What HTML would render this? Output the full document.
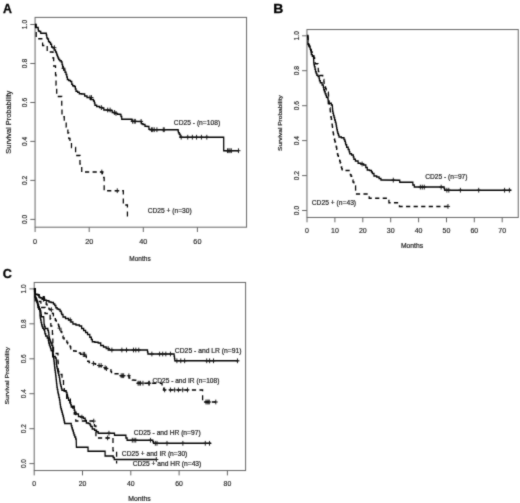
<!DOCTYPE html>
<html><head><meta charset="utf-8"><style>
html,body{margin:0;padding:0;background:#fff;}
svg{display:block;}
text{font-family:"Liberation Sans",sans-serif;}
.tk{fill:#222;stroke:#222;stroke-width:0.15px;}
.lb{fill:#222;stroke:#222;stroke-width:0.2px;}
.pl{font-weight:bold;fill:#000;stroke:#000;stroke-width:0.3px;}
</style></head><body>
<svg width="520" height="503" viewBox="0 0 520 503">
<defs><filter id="soft" x="0" y="0" width="520" height="503" filterUnits="userSpaceOnUse" color-interpolation-filters="sRGB"><feConvolveMatrix order="3" kernelMatrix="0.05 0.15 0.05 0.15 1 0.15 0.05 0.15 0.05" edgeMode="duplicate"/></filter></defs>
<g filter="url(#soft)">
<rect width="520" height="503" fill="#fff"/>
<rect x="35.07" y="17.4" width="211.5" height="209.8" fill="none" stroke="#666" stroke-width="1"/>
<path d="M35.1 227.2v4.8M89.2 227.2v4.8M143.3 227.2v4.8M197.4 227.2v4.8M35.1 219.4h-4.8M35.1 180.4h-4.8M35.1 141.4h-4.8M35.1 102.5h-4.8M35.1 63.5h-4.8M35.1 24.5h-4.8" stroke="#666" stroke-width="1" fill="none"/>
<text x="35.1" y="243.6" font-size="7.3" class="tk" text-anchor="middle">0</text>
<text x="89.2" y="243.6" font-size="7.3" class="tk" text-anchor="middle">20</text>
<text x="143.3" y="243.6" font-size="7.3" class="tk" text-anchor="middle">40</text>
<text x="197.4" y="243.6" font-size="7.3" class="tk" text-anchor="middle">60</text>
<text transform="translate(26.6,219.4) rotate(-90)" font-size="6.7" class="tk" text-anchor="middle">0.0</text>
<text transform="translate(26.6,180.4) rotate(-90)" font-size="6.7" class="tk" text-anchor="middle">0.2</text>
<text transform="translate(26.6,141.4) rotate(-90)" font-size="6.7" class="tk" text-anchor="middle">0.4</text>
<text transform="translate(26.6,102.5) rotate(-90)" font-size="6.7" class="tk" text-anchor="middle">0.6</text>
<text transform="translate(26.6,63.5) rotate(-90)" font-size="6.7" class="tk" text-anchor="middle">0.8</text>
<text transform="translate(26.6,24.5) rotate(-90)" font-size="6.7" class="tk" text-anchor="middle">1.0</text>
<rect x="306.95" y="29.55" width="211.3" height="187.9" fill="none" stroke="#666" stroke-width="1"/>
<path d="M307.0 217.5v4.8M334.9 217.5v4.8M362.8 217.5v4.8M390.7 217.5v4.8M418.6 217.5v4.8M446.5 217.5v4.8M474.3 217.5v4.8M502.2 217.5v4.8M306.9 210.5h-4.8M306.9 175.6h-4.8M306.9 140.6h-4.8M306.9 105.7h-4.8M306.9 70.7h-4.8M306.9 35.8h-4.8" stroke="#666" stroke-width="1" fill="none"/>
<text x="307.0" y="232.6" font-size="7.0" class="tk" text-anchor="middle">0</text>
<text x="334.9" y="232.6" font-size="7.0" class="tk" text-anchor="middle">10</text>
<text x="362.8" y="232.6" font-size="7.0" class="tk" text-anchor="middle">20</text>
<text x="390.7" y="232.6" font-size="7.0" class="tk" text-anchor="middle">30</text>
<text x="418.6" y="232.6" font-size="7.0" class="tk" text-anchor="middle">40</text>
<text x="446.5" y="232.6" font-size="7.0" class="tk" text-anchor="middle">50</text>
<text x="474.3" y="232.6" font-size="7.0" class="tk" text-anchor="middle">60</text>
<text x="502.2" y="232.6" font-size="7.0" class="tk" text-anchor="middle">70</text>
<text transform="translate(298.6,210.5) rotate(-90)" font-size="6.7" class="tk" text-anchor="middle">0.0</text>
<text transform="translate(298.6,175.6) rotate(-90)" font-size="6.7" class="tk" text-anchor="middle">0.2</text>
<text transform="translate(298.6,140.6) rotate(-90)" font-size="6.7" class="tk" text-anchor="middle">0.4</text>
<text transform="translate(298.6,105.7) rotate(-90)" font-size="6.7" class="tk" text-anchor="middle">0.6</text>
<text transform="translate(298.6,70.7) rotate(-90)" font-size="6.7" class="tk" text-anchor="middle">0.8</text>
<text transform="translate(298.6,35.8) rotate(-90)" font-size="6.7" class="tk" text-anchor="middle">1.0</text>
<rect x="34.2" y="282.45" width="211.4" height="188.1" fill="none" stroke="#666" stroke-width="1"/>
<path d="M34.2 470.6v4.8M82.5 470.6v4.8M130.8 470.6v4.8M179.1 470.6v4.8M227.4 470.6v4.8M34.2 463.6h-4.8M34.2 428.7h-4.8M34.2 393.7h-4.8M34.2 358.8h-4.8M34.2 323.8h-4.8M34.2 288.9h-4.8" stroke="#666" stroke-width="1" fill="none"/>
<text x="34.2" y="485.6" font-size="6.9" class="tk" text-anchor="middle">0</text>
<text x="82.5" y="485.6" font-size="6.9" class="tk" text-anchor="middle">20</text>
<text x="130.8" y="485.6" font-size="6.9" class="tk" text-anchor="middle">40</text>
<text x="179.1" y="485.6" font-size="6.9" class="tk" text-anchor="middle">60</text>
<text x="227.4" y="485.6" font-size="6.9" class="tk" text-anchor="middle">80</text>
<text transform="translate(25.6,463.6) rotate(-90)" font-size="6.5" class="tk" text-anchor="middle">0.0</text>
<text transform="translate(25.6,428.7) rotate(-90)" font-size="6.5" class="tk" text-anchor="middle">0.2</text>
<text transform="translate(25.6,393.7) rotate(-90)" font-size="6.5" class="tk" text-anchor="middle">0.4</text>
<text transform="translate(25.6,358.8) rotate(-90)" font-size="6.5" class="tk" text-anchor="middle">0.6</text>
<text transform="translate(25.6,323.8) rotate(-90)" font-size="6.5" class="tk" text-anchor="middle">0.8</text>
<text transform="translate(25.6,288.9) rotate(-90)" font-size="6.5" class="tk" text-anchor="middle">1.0</text>
<g transform="scale(0.84,1)">
<polyline points="41.8,24.4 42.3,24.4 42.3,27.5 45.2,27.5 45.4,27.5 45.4,29.2 45.7,29.2 45.7,30.9 45.8,30.9 47.0,30.9 47.0,31.4 48.2,31.4 48.5,31.4 48.5,33.2 48.8,33.2 54.6,33.2 55.1,33.2 55.1,34.9 55.6,34.9 55.8,38.1 56.6,38.1 56.6,38.9 57.4,38.9 57.7,38.9 57.7,41.6 58.1,41.6 58.9,41.6 58.9,42.5 59.8,42.5 60.2,42.5 60.2,44.2 60.6,44.2 61.4,44.2 61.4,46.9 62.1,46.9 62.9,46.9 62.9,47.7 63.6,47.7 64.5,47.7 64.5,49.9 65.4,49.9 66.1,49.9 66.1,51.9 66.9,51.9 67.2,51.9 67.2,53.4 67.7,53.4 67.7,54.9 68.0,54.9 68.4,54.9 68.4,56.4 69.1,56.4 69.1,57.9 69.5,57.9 69.9,57.9 69.9,59.4 70.4,59.4 71.2,59.4 71.2,60.7 72.1,60.7 72.9,60.7 72.9,61.9 73.6,61.9 73.9,61.9 73.9,64.5 74.3,64.5 74.5,64.5 74.5,66.4 74.9,66.4 74.9,68.3 75.1,68.3 76.0,68.3 76.0,69.9 76.8,69.9 77.4,69.9 77.4,72.2 78.6,72.2 78.6,74.6 79.2,74.6 79.5,74.6 79.5,77.0 80.2,77.0 80.2,79.4 80.6,79.4 81.8,79.4 81.8,80.6 83.0,80.6 83.9,80.6 83.9,81.4 84.9,81.4 85.4,81.4 85.4,84.2 85.8,84.2 86.5,84.2 86.5,85.8 87.3,85.8 88.3,85.8 88.3,86.6 89.3,86.6 89.7,86.6 89.7,88.9 90.5,88.9 90.5,91.3 91.0,91.3 92.4,91.3 92.4,92.2 93.8,92.2 94.4,92.2 94.4,93.7 95.0,93.7 97.3,93.7 97.3,94.1 99.6,94.1 100.8,94.1 100.8,96.1 101.9,96.1 103.6,96.1 103.6,97.5 105.4,97.5 107.9,97.5 107.9,99.4 110.5,99.4 111.3,99.4 111.3,100.9 112.1,100.9 112.4,100.9 112.4,103.1 113.0,103.1 113.0,105.2 113.3,105.2 115.1,105.2 115.1,106.6 116.8,106.6 118.5,106.6 118.5,107.6 120.2,107.6 121.7,107.6 121.7,108.1 123.1,108.1 123.6,108.1 123.6,110.0 124.2,110.0 128.5,110.0 128.5,110.5 132.7,110.5 133.6,110.5 133.6,112.4 134.5,112.4 136.0,112.4 136.0,113.4 137.4,113.4 139.9,113.4 139.9,114.3 142.5,114.3 143.0,114.3 143.0,114.6 143.6,114.6 144.0,114.6 144.0,116.5 144.4,116.5 144.9,116.5 144.9,119.2 145.5,119.2 156.5,119.2 157.0,119.2 157.0,121.3 157.4,121.3 168.0,121.4 168.4,121.4 168.4,123.8 168.8,123.8 170.2,123.8 170.2,124.6 171.7,124.6 172.6,124.6 172.6,126.2 173.5,126.2 176.7,126.5 177.3,126.5 177.3,129.2 178.0,129.2 178.6,129.2 178.6,129.7 179.2,129.7 212.0,129.7 212.1,129.7 212.1,131.2 212.4,131.2 212.4,132.8 212.5,132.8 213.4,132.8 213.4,134.3 214.3,134.3 214.5,134.3 214.5,137.2 214.8,137.2 266.3,137.2 266.3,150.7 284.5,150.7" fill="none" stroke="#000" stroke-width="1.5" stroke-linejoin="miter" stroke-miterlimit="3"/>
<path d="M64.8 45.3v4.8M62.4 47.7h4.8M75.6 65.9v4.8M73.2 68.3h4.8M107.1 95.1v4.8M104.8 97.5h4.8M108.9 95.1v4.8M106.5 97.5h4.8M120.7 105.2v4.8M118.3 107.6h4.8M128.2 107.6v4.8M125.8 110.0h4.8M131.1 107.6v4.8M128.7 110.0h4.8M136.4 110.0v4.8M134.0 112.4h4.8M138.1 111.0v4.8M135.7 113.4h4.8M157.9 118.9v4.8M155.5 121.3h4.8M159.8 118.9v4.8M157.4 121.3h4.8M161.1 118.9v4.8M158.7 121.3h4.8M168.0 119.0v4.8M165.6 121.4h4.8M180.4 127.3v4.8M178.0 129.7h4.8M181.8 127.3v4.8M179.4 129.7h4.8M183.6 127.3v4.8M181.2 129.7h4.8M186.8 127.3v4.8M184.4 129.7h4.8M194.4 127.3v4.8M192.0 129.7h4.8M195.5 127.3v4.8M193.1 129.7h4.8M215.7 134.8v4.8M213.3 137.2h4.8M223.5 134.8v4.8M221.1 137.2h4.8M229.0 134.8v4.8M226.7 137.2h4.8M234.0 134.8v4.8M231.7 137.2h4.8M239.8 134.8v4.8M237.4 137.2h4.8M246.2 134.8v4.8M243.8 137.2h4.8M270.8 148.3v4.8M268.5 150.7h4.8M272.4 148.3v4.8M270.0 150.7h4.8M273.8 148.3v4.8M271.4 150.7h4.8M275.4 148.3v4.8M273.0 150.7h4.8M283.9 148.3v4.8M281.5 150.7h4.8" stroke="#111" stroke-width="1.0" fill="none"/>
<polyline points="41.8,24.4 43.1,24.4 43.1,38.7 50.7,38.7 50.7,45.4 56.2,45.4 56.2,52.0 63.1,52.0 63.1,58.0 63.9,58.0 63.9,66.0 66.1,66.0 66.1,75.0 66.7,75.0 66.7,85.0 67.5,85.0 67.5,96.5 73.5,96.5 73.5,106.0 73.8,106.0 73.8,116.8 76.5,116.8 76.5,120.0 78.8,120.0 78.8,127.0 80.8,127.0 80.8,133.0 81.9,133.0 81.9,138.5 83.3,138.5 83.3,141.5 85.1,141.5 85.1,147.6 90.0,147.6 90.0,155.5 95.2,155.5 95.2,164.0 97.3,164.0 97.3,172.0 122.0,172.0 122.0,177.5 124.0,177.5 124.0,190.7 146.8,190.7 146.8,205.1 151.7,205.1 151.7,219.4" fill="none" stroke="#000" stroke-width="1.5" stroke-dasharray="5 4" stroke-linejoin="miter" stroke-miterlimit="3"/>
<path d="M121.2 169.6v4.8M118.8 172.0h4.8M139.6 188.3v4.8M137.3 190.7h4.8" stroke="#111" stroke-width="1.0" fill="none"/>
<polyline points="366.0,35.6 366.2,35.6 366.2,37.2 366.6,37.2 366.6,38.9 366.8,38.9 366.5,43.7 367.2,43.7 367.2,44.9 367.9,44.9 368.3,44.9 368.3,47.0 369.2,47.0 369.2,49.1 369.6,49.1 369.9,49.1 369.9,50.6 370.4,50.6 370.4,52.1 370.6,52.1 370.6,54.4 371.8,54.4 371.8,56.2 373.1,56.2 373.2,56.2 373.2,58.1 373.4,58.1 373.4,60.0 373.5,60.0 373.5,62.7 373.8,62.7 373.8,64.8 374.3,64.8 374.3,66.8 374.6,66.8 375.0,66.8 375.0,69.2 375.6,69.2 375.6,71.7 376.0,71.7 376.4,71.7 376.4,73.4 377.2,73.4 377.2,75.2 377.6,75.2 378.6,75.2 378.6,76.6 379.6,76.6 379.9,76.6 379.9,78.6 380.3,78.6 380.3,80.7 380.5,80.7 381.3,80.7 381.3,82.8 382.1,82.8 383.4,82.8 383.4,84.9 384.6,84.9 384.9,84.9 384.9,87.3 385.4,87.3 385.4,89.8 385.7,89.8 386.2,89.8 386.2,91.8 387.1,91.8 387.1,93.7 387.6,93.7 388.0,93.7 388.0,95.5 388.7,95.5 388.7,97.3 389.0,97.3 389.8,97.3 389.8,97.7 390.5,97.7 390.5,97.7 390.5,99.6 390.7,99.6 390.7,101.6 390.8,101.6 390.8,103.5 390.8,103.5 393.2,103.3 394.4,103.3 394.4,104.9 395.6,104.9 395.7,104.9 395.7,107.0 395.8,107.0 395.8,109.1 396.0,109.1 396.0,111.2 396.1,111.2 396.4,111.2 396.4,113.3 397.0,113.3 397.0,115.5 397.7,115.5 397.7,117.6 398.0,117.6 398.4,117.6 398.4,119.9 399.2,119.9 399.2,122.2 399.6,122.2 399.9,122.2 399.9,124.1 400.3,124.1 400.3,126.0 400.7,126.0 400.7,127.9 401.1,127.9 401.1,129.8 401.6,129.8 401.6,131.7 401.8,131.7 402.1,131.7 402.1,133.5 402.9,133.5 402.9,135.3 403.6,135.3 403.6,137.1 403.9,137.1 406.4,137.1 406.4,137.7 408.9,137.7 409.5,137.7 409.5,139.5 410.5,139.5 410.5,141.3 411.1,141.3 411.2,141.3 411.2,143.1 411.6,143.1 411.6,144.8 411.8,144.8 412.7,144.8 412.7,147.2 414.5,147.2 414.5,149.6 415.4,149.6 415.7,149.6 415.7,151.7 416.4,151.7 416.4,153.8 416.8,153.8 418.5,153.8 418.5,155.0 420.2,155.0 420.6,155.0 420.6,157.1 421.3,157.1 421.3,159.2 421.7,159.2 423.1,159.2 423.1,160.9 424.5,160.9 426.3,160.9 426.3,163.3 428.1,163.3 429.6,163.3 429.6,164.0 431.1,164.0 432.9,164.0 432.9,165.1 434.6,165.1 435.5,165.1 435.5,167.5 437.2,167.5 437.2,169.9 438.1,169.9 439.9,169.9 439.9,170.5 441.7,170.5 442.2,170.5 442.2,172.0 443.3,172.0 443.3,173.5 443.8,173.5 445.2,173.5 445.2,175.9 446.7,175.9 448.5,175.9 448.5,177.1 450.2,177.1 451.3,177.1 451.3,178.6 453.5,178.6 453.5,180.1 454.5,180.1 475.5,180.2 475.9,180.2 475.9,182.2 476.3,182.2 490.7,182.2 491.5,182.2 491.5,184.9 492.4,184.9 493.2,184.9 493.2,187.1 493.9,187.1 528.3,187.1 528.7,187.1 528.7,188.6 529.4,188.6 529.4,190.2 529.8,190.2 608.7,190.2" fill="none" stroke="#000" stroke-width="1.5" stroke-linejoin="miter" stroke-miterlimit="3"/>
<path d="M431.1 161.6v4.8M428.7 164.0h4.8M468.2 177.7v4.8M465.8 180.1h4.8M500.4 184.7v4.8M498.0 187.1h4.8M502.7 184.7v4.8M500.4 187.1h4.8M505.1 184.7v4.8M502.7 187.1h4.8M525.2 184.7v4.8M522.9 187.1h4.8M532.0 187.8v4.8M529.6 190.2h4.8M534.3 187.8v4.8M531.9 190.2h4.8M548.1 187.8v4.8M545.7 190.2h4.8M569.9 187.8v4.8M567.5 190.2h4.8M600.7 187.8v4.8M598.3 190.2h4.8M606.4 187.8v4.8M604.0 190.2h4.8" stroke="#111" stroke-width="1.0" fill="none"/>
<polyline points="366.0,35.6 366.3,35.6 366.3,36.0 366.7,36.0 366.7,44.0 367.6,44.0 367.6,46.0 368.5,46.0 368.9,46.0 368.9,48.0 369.8,48.0 369.8,50.0 370.2,50.0 370.7,50.0 370.7,52.0 371.6,52.0 371.6,54.0 372.0,54.0 372.6,54.0 372.6,56.0 373.8,56.0 373.8,58.0 374.4,58.0 374.6,58.0 374.6,59.9 374.9,59.9 374.9,61.8 375.3,61.8 375.3,63.7 375.5,63.7 378.5,63.7 378.5,63.7 378.5,65.4 378.7,65.4 378.7,67.2 378.8,67.2 379.0,71.5 379.5,71.5 379.5,73.5 380.5,73.5 380.5,75.5 381.0,75.5 383.8,75.5 384.2,75.5 384.2,77.5 385.1,77.5 385.1,79.4 385.5,79.4 385.6,79.4 385.6,81.7 385.8,81.7 385.8,84.0 386.0,84.0 386.2,84.0 386.2,85.5 386.8,85.5 386.8,87.0 387.1,87.0 387.5,87.0 387.5,88.5 388.3,88.5 388.3,90.0 388.7,90.0 389.8,90.0 389.8,92.2 390.8,92.2 390.9,92.2 390.9,94.5 391.1,94.5 391.1,96.7 391.3,96.7 391.3,99.0 391.4,99.0 391.6,99.0 391.6,101.5 391.9,101.5 391.9,104.0 392.0,104.0 392.2,104.0 392.2,106.0 392.6,106.0 392.6,108.0 392.9,108.0 393.0,108.0 393.0,109.7 393.2,109.7 393.2,111.5 393.4,111.5 393.4,113.2 393.6,113.2 393.6,115.0 393.7,115.0 393.9,115.0 393.9,117.1 394.4,117.1 394.4,119.2 394.6,119.2 394.8,119.2 394.8,121.0 395.1,121.0 395.1,122.7 395.3,122.7 395.3,124.5 395.5,124.5 395.6,124.5 395.6,126.4 395.9,126.4 395.9,128.3 396.2,128.3 396.2,130.3 396.5,130.3 396.5,132.2 396.8,132.2 396.8,134.1 396.9,134.1 397.2,134.1 397.2,136.5 397.9,136.5 397.9,138.9 398.2,138.9 398.4,138.9 398.4,140.4 398.8,140.4 398.8,142.0 399.0,142.0 399.4,142.0 399.4,144.5 400.2,144.5 400.2,147.0 400.6,147.0 400.8,147.0 400.8,149.3 401.2,149.3 401.2,151.5 401.6,151.5 401.6,153.8 401.8,153.8 402.1,153.8 402.1,155.6 402.9,155.6 402.9,157.4 403.6,157.4 403.6,159.2 403.9,159.2 404.3,159.2 404.3,161.1 405.0,161.1 405.0,163.0 405.4,163.0 405.7,163.0 405.7,165.0 406.2,165.0 406.2,167.0 406.5,167.0 406.8,167.0 406.8,168.8 407.4,168.8 407.4,170.5 407.6,170.5 416.1,170.5 416.4,170.5 416.4,172.6 417.1,172.6 417.1,174.7 417.5,174.7 417.9,174.7 417.9,176.3 418.7,176.3 418.7,178.0 419.0,178.0 419.4,178.0 419.4,180.0 420.2,180.0 420.2,182.0 420.6,182.0 421.3,182.0 421.3,184.0 422.6,184.0 422.6,186.0 423.2,186.0 423.3,186.0 423.3,188.0 423.3,188.0 423.3,190.1 423.4,190.1 423.4,192.1 423.5,192.1 423.5,194.1 423.6,194.1 439.5,194.1 439.5,198.2 463.0,198.2 463.0,202.8 472.6,202.8 474.0,202.8 474.0,204.4 475.5,204.4 475.5,206.4 533.3,206.4" fill="none" stroke="#000" stroke-width="1.5" stroke-dasharray="5 4" stroke-linejoin="miter" stroke-miterlimit="3"/>
<path d="M533.3 204.0v4.8M531.0 206.4h4.8" stroke="#111" stroke-width="1.0" fill="none"/>
<polyline points="40.2,288.9 41.1,288.9 41.3,288.9 41.3,291.4 41.9,291.4 41.9,293.9 42.1,293.9 42.9,293.9 42.9,294.5 43.6,294.5 44.6,294.5 44.6,294.8 45.7,294.8 46.4,294.8 46.4,296.9 47.1,296.9 47.5,296.9 47.5,297.8 47.9,297.8 48.9,297.8 48.9,298.1 49.9,298.1 50.4,298.1 50.4,299.3 51.0,299.3 52.0,299.3 52.0,300.2 53.1,300.2 55.4,300.2 55.4,300.8 57.7,300.8 58.3,300.8 58.3,302.0 58.8,302.0 60.8,302.0 60.8,302.6 62.7,302.6 63.6,302.6 63.6,304.1 64.5,304.1 65.2,304.1 65.2,305.6 66.0,305.6 66.5,305.6 66.5,307.7 67.0,307.7 68.0,307.7 68.0,308.9 69.0,308.9 69.8,308.9 69.8,309.4 70.5,309.4 71.5,309.4 71.5,311.2 72.6,311.2 72.9,311.2 72.9,312.9 73.5,312.9 73.5,314.5 73.8,314.5 75.0,314.5 75.0,317.0 76.2,317.0 78.0,317.0 78.0,318.6 79.8,318.6 81.5,318.6 81.5,319.9 83.2,319.9 84.4,319.9 84.4,321.9 85.6,321.9 86.8,321.9 86.8,323.9 88.0,323.9 90.4,323.9 90.4,324.9 92.7,324.9 94.5,324.9 94.5,325.9 96.3,325.9 97.2,325.9 97.2,328.4 98.1,328.4 99.6,328.4 99.6,330.4 101.1,330.4 101.9,330.4 101.9,332.4 102.7,332.4 104.2,332.4 104.2,334.4 105.7,334.4 106.9,334.4 106.9,337.3 108.1,337.3 108.7,337.3 108.7,339.6 109.9,339.6 109.9,341.8 110.5,341.8 112.9,341.8 112.9,342.3 115.2,342.3 116.9,342.3 116.9,343.1 118.6,343.1 119.9,343.1 119.9,345.4 121.3,345.4 123.2,345.4 123.2,346.9 125.0,346.9 126.4,346.9 126.4,348.5 127.7,348.5 129.6,348.5 129.6,350.0 131.4,350.0 175.4,350.0 175.6,350.0 175.6,352.0 176.1,352.0 176.1,354.0 176.3,354.0 207.1,354.0 207.3,354.0 207.3,356.3 207.7,356.3 207.7,358.5 208.1,358.5 208.1,360.8 208.3,360.8 283.9,360.8" fill="none" stroke="#000" stroke-width="1.5" stroke-linejoin="miter" stroke-miterlimit="3"/>
<path d="M51.7 296.9v4.8M49.3 299.3h4.8M83.6 317.5v4.8M81.2 319.9h4.8M128.7 346.1v4.8M126.3 348.5h4.8M133.2 347.6v4.8M130.8 350.0h4.8M145.1 347.6v4.8M142.7 350.0h4.8M150.6 347.6v4.8M148.2 350.0h4.8M158.9 347.6v4.8M156.5 350.0h4.8M161.7 347.6v4.8M159.3 350.0h4.8M165.2 347.6v4.8M162.9 350.0h4.8M180.8 351.6v4.8M178.5 354.0h4.8M190.0 351.6v4.8M187.6 354.0h4.8M193.7 351.6v4.8M191.3 354.0h4.8M197.4 351.6v4.8M195.0 354.0h4.8M202.9 351.6v4.8M200.5 354.0h4.8M210.6 358.4v4.8M208.2 360.8h4.8M215.2 358.4v4.8M212.9 360.8h4.8M219.8 358.4v4.8M217.4 360.8h4.8M246.1 358.4v4.8M243.7 360.8h4.8M249.5 358.4v4.8M247.1 360.8h4.8M254.2 358.4v4.8M251.8 360.8h4.8M282.7 358.4v4.8M280.4 360.8h4.8" stroke="#111" stroke-width="1.0" fill="none"/>
<polyline points="40.7,288.8 41.1,288.8 41.1,291.6 43.8,291.6 43.9,291.6 43.9,293.1 44.2,293.1 44.2,294.6 44.3,294.6 45.4,294.6 45.4,295.1 46.5,295.1 46.7,295.1 46.7,296.7 47.0,296.7 52.2,296.7 52.6,296.7 52.6,298.2 53.0,298.2 53.3,301.1 53.9,301.1 53.9,301.8 54.6,301.8 55.0,301.8 55.0,304.2 55.3,304.2 56.0,304.2 56.0,305.0 56.8,305.0 57.1,305.0 57.1,306.6 57.5,306.6 58.2,306.6 58.2,309.0 58.9,309.0 59.5,309.0 59.5,309.7 60.2,309.7 61.0,309.7 61.0,311.7 61.8,311.7 62.4,311.7 62.4,313.5 63.1,313.5 63.6,313.5 63.6,316.1 64.1,316.1 64.8,316.1 64.8,318.8 65.5,318.8 65.9,318.8 65.9,320.2 66.2,320.2 67.0,320.2 67.0,321.3 67.8,321.3 68.5,321.3 68.5,322.4 69.1,322.4 69.4,322.4 69.4,324.8 69.7,324.8 69.9,324.8 69.9,326.5 70.3,326.5 70.3,328.2 70.5,328.2 71.2,328.2 71.2,329.6 72.0,329.6 72.5,329.6 72.5,331.7 73.6,331.7 73.6,333.8 74.1,333.8 74.4,333.8 74.4,336.0 75.0,336.0 75.0,338.1 75.4,338.1 76.4,338.1 76.4,339.2 77.5,339.2 78.3,339.2 78.3,339.9 79.2,339.9 79.6,339.9 79.6,342.4 80.0,342.4 80.7,342.4 80.7,343.8 81.3,343.8 82.2,343.8 82.2,344.6 83.1,344.6 83.5,344.6 83.5,346.7 84.2,346.7 84.2,348.8 84.6,348.8 85.9,348.8 85.9,349.6 87.2,349.6 87.7,349.6 87.7,350.9 88.2,350.9 90.3,350.9 90.3,351.3 92.4,351.3 93.4,351.3 93.4,353.1 94.4,353.1 95.9,353.1 95.9,354.3 97.5,354.3 99.8,354.3 99.8,356.0 102.0,356.0 102.8,356.0 102.8,357.4 103.5,357.4 103.8,357.4 103.8,359.3 104.3,359.3 104.3,361.2 104.6,361.2 106.1,361.2 106.1,362.5 107.7,362.5 109.2,362.5 109.2,363.4 110.8,363.4 112.0,363.4 112.0,363.8 113.3,363.8 113.8,363.8 113.8,365.5 114.3,365.5 118.1,365.5 118.1,366.0 121.9,366.0 122.7,366.0 122.7,367.7 123.5,367.7 124.8,367.7 124.8,368.6 126.1,368.6 128.3,368.6 128.3,369.4 130.6,369.4 131.6,369.7 132.0,369.7 132.0,371.4 132.3,371.4 132.8,371.4 132.8,373.8 133.3,373.8 143.2,373.8 143.5,373.8 143.5,375.7 143.9,375.7 153.4,375.8 153.7,375.8 153.7,377.9 154.1,377.9 155.4,377.9 155.4,378.6 156.7,378.6 157.5,378.6 157.5,380.1 158.3,380.1 161.1,380.3 161.7,380.3 161.7,382.7 162.3,382.7 162.8,382.7 162.8,383.2 163.4,383.2 192.7,383.2 192.9,383.2 192.9,386.0 193.1,386.0 193.9,386.0 193.9,387.3 194.7,387.3 194.9,387.3 194.9,389.9 195.1,389.9 241.2,389.9 241.2,402.0 257.4,402.0" fill="none" stroke="#000" stroke-width="1.5" stroke-dasharray="5 4" stroke-linejoin="miter" stroke-miterlimit="3"/>
<path d="M61.2 307.3v4.8M58.8 309.7h4.8M70.9 325.8v4.8M68.5 328.2h4.8M99.1 351.9v4.8M96.7 354.3h4.8M100.7 351.9v4.8M98.3 354.3h4.8M111.2 361.0v4.8M108.8 363.4h4.8M117.9 363.1v4.8M115.5 365.5h4.8M120.4 363.1v4.8M118.0 365.5h4.8M125.2 365.3v4.8M122.8 367.7h4.8M126.7 366.2v4.8M124.3 368.6h4.8M144.3 373.3v4.8M142.0 375.7h4.8M146.0 373.3v4.8M143.7 375.7h4.8M147.2 373.3v4.8M144.8 375.7h4.8M153.4 373.4v4.8M151.0 375.8h4.8M164.4 380.8v4.8M162.0 383.2h4.8M165.7 380.8v4.8M163.3 383.2h4.8M167.3 380.8v4.8M164.9 383.2h4.8M170.2 380.8v4.8M167.8 383.2h4.8M177.0 380.8v4.8M174.6 383.2h4.8M177.9 380.8v4.8M175.5 383.2h4.8M196.0 387.5v4.8M193.6 389.9h4.8M202.9 387.5v4.8M200.5 389.9h4.8M207.9 387.5v4.8M205.5 389.9h4.8M212.4 387.5v4.8M210.0 389.9h4.8M217.5 387.5v4.8M215.1 389.9h4.8M223.2 387.5v4.8M220.8 389.9h4.8M245.2 399.6v4.8M242.8 402.0h4.8M246.6 399.6v4.8M244.2 402.0h4.8M247.9 399.6v4.8M245.5 402.0h4.8M249.2 399.6v4.8M246.9 402.0h4.8M256.9 399.6v4.8M254.5 402.0h4.8" stroke="#111" stroke-width="1.0" fill="none"/>
<polyline points="41.1,288.7 41.3,288.7 41.3,290.4 41.7,290.4 41.7,292.0 41.8,292.0 41.6,296.8 42.2,296.8 42.2,298.0 42.8,298.0 43.2,298.0 43.2,300.1 43.9,300.1 43.9,302.2 44.3,302.2 44.5,302.2 44.5,303.7 44.9,303.7 44.9,305.2 45.1,305.2 45.1,307.5 46.2,307.5 46.2,309.3 47.3,309.3 47.6,313.1 47.6,315.8 47.9,315.8 47.9,317.9 48.4,317.9 48.4,319.9 48.7,319.9 48.9,319.9 48.9,322.4 49.5,322.4 49.5,324.8 49.8,324.8 50.1,324.8 50.1,326.6 50.9,326.6 50.9,328.3 51.2,328.3 52.1,328.3 52.1,329.7 53.0,329.7 53.2,329.7 53.2,331.8 53.5,331.8 53.5,333.8 53.7,333.8 54.4,333.8 54.4,335.9 55.1,335.9 56.2,335.9 56.2,338.0 57.3,338.0 57.5,338.0 57.5,340.5 58.0,340.5 58.0,342.9 58.2,342.9 58.7,342.9 58.7,344.9 59.5,344.9 59.5,346.8 59.9,346.8 60.2,346.8 60.2,348.6 60.8,348.6 60.8,350.4 61.1,350.4 61.7,350.4 61.7,350.8 62.4,350.8 62.7,356.6 64.7,356.4 65.8,356.4 65.8,358.0 66.8,358.0 66.9,358.0 66.9,360.1 67.0,360.1 67.0,362.2 67.1,362.2 67.1,364.3 67.2,364.3 67.5,364.3 67.5,366.4 68.0,366.4 68.0,368.6 68.6,368.6 68.6,370.7 68.9,370.7 69.2,370.7 69.2,373.0 69.9,373.0 69.9,375.3 70.3,375.3 70.5,375.3 70.5,377.2 70.9,377.2 70.9,379.1 71.2,379.1 71.2,381.0 71.6,381.0 71.6,382.9 72.0,382.9 72.0,384.8 72.2,384.8 72.5,384.8 72.5,386.6 73.1,386.6 73.1,388.4 73.7,388.4 73.7,390.2 74.0,390.2 76.2,390.2 76.2,390.8 78.3,390.8 78.8,390.8 78.8,392.6 79.7,392.6 79.7,394.4 80.2,394.4 80.3,394.4 80.3,396.2 80.7,396.2 80.7,397.9 80.8,397.9 81.6,397.9 81.6,400.3 83.1,400.3 83.1,402.7 83.9,402.7 84.2,402.7 84.2,404.8 84.8,404.8 84.8,406.9 85.1,406.9 86.6,406.9 86.6,408.1 88.1,408.1 88.4,408.1 88.4,410.2 89.1,410.2 89.1,412.3 89.4,412.3 90.6,412.3 90.6,414.0 91.8,414.0 93.4,414.0 93.4,416.4 94.9,416.4 96.2,416.4 96.2,417.1 97.5,417.1 99.1,417.1 99.1,418.2 100.6,418.2 101.4,418.2 101.4,420.6 102.8,420.6 102.8,423.0 103.6,423.0 105.1,423.0 105.1,423.6 106.7,423.6 107.2,423.6 107.2,425.1 108.1,425.1 108.1,426.6 108.5,426.6 109.8,426.6 109.8,429.0 111.0,429.0 112.6,429.0 112.6,430.2 114.1,430.2 115.0,430.2 115.0,431.7 116.9,431.7 116.9,433.2 117.8,433.2 136.0,433.3 136.3,433.3 136.3,435.3 136.7,435.3 149.2,435.3 149.9,435.3 149.9,438.0 150.6,438.0 151.3,438.0 151.3,440.2 151.9,440.2 181.7,440.2 182.0,440.2 182.0,441.8 182.7,441.8 182.7,443.3 183.0,443.3 251.3,443.3" fill="none" stroke="#000" stroke-width="1.5" stroke-linejoin="miter" stroke-miterlimit="3"/>
<path d="M97.5 414.7v4.8M95.1 417.1h4.8M129.7 430.8v4.8M127.3 433.2h4.8M157.5 437.8v4.8M155.1 440.2h4.8M159.6 437.8v4.8M157.2 440.2h4.8M161.6 437.8v4.8M159.3 440.2h4.8M179.1 437.8v4.8M176.7 440.2h4.8M184.9 440.9v4.8M182.5 443.3h4.8M186.9 440.9v4.8M184.5 443.3h4.8M198.8 440.9v4.8M196.5 443.3h4.8M217.7 440.9v4.8M215.3 443.3h4.8M244.4 440.9v4.8M242.0 443.3h4.8M249.4 440.9v4.8M247.0 443.3h4.8" stroke="#111" stroke-width="1.0" fill="none"/>
<polyline points="40.7,288.8 41.9,288.8 41.9,301.6 48.7,301.6 48.7,307.6 53.6,307.6 53.6,313.5 59.7,313.5 59.7,318.9 60.5,318.9 60.5,326.1 62.4,326.1 62.4,334.2 62.9,334.2 62.9,343.1 63.7,343.1 63.7,353.4 69.0,353.4 69.0,362.0 69.3,362.0 69.3,371.6 71.7,371.6 71.7,374.5 73.8,374.5 73.8,380.8 75.6,380.8 75.6,386.2 76.5,386.2 76.5,391.1 77.8,391.1 77.8,393.8 79.4,393.8 79.4,399.2 83.8,399.2 83.8,406.3 88.4,406.3 88.4,413.9 90.2,413.9 90.2,421.1 112.4,421.1 112.4,426.0 114.2,426.0 114.2,437.9 134.5,437.9 134.5,450.8 138.8,450.8 138.8,463.6" fill="none" stroke="#000" stroke-width="1.5" stroke-dasharray="5 4" stroke-linejoin="miter" stroke-miterlimit="3"/>
<path d="M111.6 418.7v4.8M109.2 421.1h4.8M128.1 435.5v4.8M125.7 437.9h4.8" stroke="#111" stroke-width="1.0" fill="none"/>
<polyline points="41.1,288.7 41.4,288.7 41.4,289.1 41.7,289.1 41.7,297.1 42.5,297.1 42.5,299.1 43.3,299.1 43.7,299.1 43.7,301.1 44.5,301.1 44.5,303.1 44.8,303.1 45.2,303.1 45.2,305.1 46.0,305.1 46.0,307.1 46.4,307.1 46.9,307.1 46.9,309.1 47.9,309.1 47.9,311.1 48.4,311.1 48.6,311.1 48.6,313.0 48.9,313.0 48.9,314.9 49.2,314.9 49.2,316.8 49.4,316.8 52.0,316.8 52.3,320.3 52.5,324.6 52.9,324.6 52.9,326.6 53.7,326.6 53.7,328.6 54.1,328.6 56.6,328.6 56.9,328.6 56.9,330.6 57.7,330.6 57.7,332.5 58.0,332.5 58.1,332.5 58.1,334.8 58.3,334.8 58.3,337.1 58.4,337.1 58.7,337.1 58.7,338.6 59.2,338.6 59.2,340.1 59.5,340.1 59.8,340.1 59.8,341.6 60.5,341.6 60.5,343.1 60.8,343.1 61.7,343.1 61.7,345.3 62.7,345.3 62.8,345.3 62.8,347.6 62.9,347.6 62.9,349.8 63.1,349.8 63.1,352.1 63.2,352.1 63.3,352.1 63.3,354.6 63.6,354.6 63.6,357.1 63.7,357.1 63.9,357.1 63.9,359.1 64.2,359.1 64.2,361.1 64.4,361.1 64.5,361.1 64.5,362.9 64.7,362.9 64.7,364.6 64.9,364.6 64.9,366.4 65.1,366.4 65.1,368.1 65.1,368.1 65.4,368.1 65.4,370.2 65.8,370.2 65.8,372.3 66.0,372.3 66.1,372.3 66.1,374.1 66.3,374.1 66.3,375.8 66.6,375.8 66.6,377.6 66.7,377.6 66.8,377.6 66.8,379.5 67.1,379.5 67.1,381.4 67.3,381.4 67.3,383.4 67.6,383.4 67.6,385.3 67.8,385.3 67.8,387.2 67.9,387.2 68.2,387.2 68.2,389.6 68.8,389.6 68.8,392.0 69.1,392.0 69.2,392.0 69.2,393.6 69.6,393.6 69.6,395.1 69.8,395.1 70.1,395.1 70.1,397.6 70.8,397.6 70.8,400.1 71.1,400.1 71.3,400.1 71.3,402.4 71.6,402.4 71.6,404.6 72.0,404.6 72.0,406.9 72.2,406.9 72.5,406.9 72.5,408.7 73.1,408.7 73.1,410.5 73.7,410.5 73.7,412.3 74.0,412.3 74.3,412.3 74.3,414.2 74.9,414.2 74.9,416.1 75.2,416.1 75.5,416.1 75.5,418.1 76.0,418.1 76.0,420.1 76.3,420.1 76.5,420.1 76.5,421.9 77.0,421.9 77.0,423.6 77.2,423.6 84.5,423.6 84.8,423.6 84.8,425.7 85.5,425.7 85.5,427.8 85.8,427.8 86.1,427.8 86.1,429.5 86.8,429.5 86.8,431.1 87.1,431.1 87.4,431.1 87.4,433.1 88.1,433.1 88.1,435.1 88.4,435.1 89.0,435.1 89.0,437.1 90.1,437.1 90.1,439.1 90.7,439.1 91.0,447.2 104.8,447.2 104.8,451.3 125.1,451.3 125.1,455.9 133.5,455.9 134.7,455.9 134.7,457.5 136.0,457.5 136.0,459.5 186.1,459.5" fill="none" stroke="#000" stroke-width="1.5" stroke-linejoin="miter" stroke-miterlimit="3"/>
<path d="M186.1 457.1v4.8M183.7 459.5h4.8" stroke="#111" stroke-width="1.0" fill="none"/>
</g>
<text x="2.99" y="13.10" font-size="13.5" class="pl" textLength="8.93" lengthAdjust="spacingAndGlyphs">A</text>
<text x="273.37" y="13.30" font-size="13.5" class="pl" textLength="10.06" lengthAdjust="spacingAndGlyphs">B</text>
<text x="2.78" y="277.80" font-size="13.5" class="pl" textLength="9.17" lengthAdjust="spacingAndGlyphs">C</text>
<text x="129.37" y="261.30" font-size="7.0" class="lb" textLength="21.27" lengthAdjust="spacingAndGlyphs">Months</text>
<text x="400.95" y="248.30" font-size="6.6" class="lb" textLength="22.10" lengthAdjust="spacingAndGlyphs">Months</text>
<text x="128.24" y="501.20" font-size="6.5" class="lb" textLength="22.41" lengthAdjust="spacingAndGlyphs">Months</text>
<text transform="translate(10.93,153.64) rotate(-90)" font-size="6.5" class="lb" textLength="62.96" lengthAdjust="spacingAndGlyphs">Survival Probability</text>
<text transform="translate(282.30,151.00) rotate(-90)" font-size="5.4" class="lb" textLength="55.82" lengthAdjust="spacingAndGlyphs">Survival Probability</text>
<text transform="translate(8.75,404.51) rotate(-90)" font-size="6.0" class="lb" textLength="57.53" lengthAdjust="spacingAndGlyphs">Survival Probability</text>
<text x="173.86" y="124.70" font-size="7.3" class="lb" textLength="46.26" lengthAdjust="spacingAndGlyphs">CD25 - (n=108)</text>
<text x="147.76" y="212.60" font-size="7.3" class="lb" textLength="43.95" lengthAdjust="spacingAndGlyphs">CD25 + (n=30)</text>
<text x="425.16" y="178.80" font-size="7.3" class="lb" textLength="42.35" lengthAdjust="spacingAndGlyphs">CD25 - (n=97)</text>
<text x="311.76" y="204.70" font-size="7.3" class="lb" textLength="44.36" lengthAdjust="spacingAndGlyphs">CD25 + (n=43)</text>
<text x="174.86" y="352.90" font-size="6.6" class="lb" textLength="66.67" lengthAdjust="spacingAndGlyphs">CD25 - and LR (n=91)</text>
<text x="152.46" y="382.60" font-size="6.6" class="lb" textLength="66.95" lengthAdjust="spacingAndGlyphs">CD25 - and IR (n=108)</text>
<text x="133.66" y="434.90" font-size="6.6" class="lb" textLength="66.96" lengthAdjust="spacingAndGlyphs">CD25 - and HR (n=97)</text>
<text x="121.86" y="455.70" font-size="6.6" class="lb" textLength="65.45" lengthAdjust="spacingAndGlyphs">CD25 + and IR (n=30)</text>
<text x="132.66" y="465.50" font-size="6.6" class="lb" textLength="68.66" lengthAdjust="spacingAndGlyphs">CD25 + and HR (n=43)</text>
</g>
</svg>
</body></html>
